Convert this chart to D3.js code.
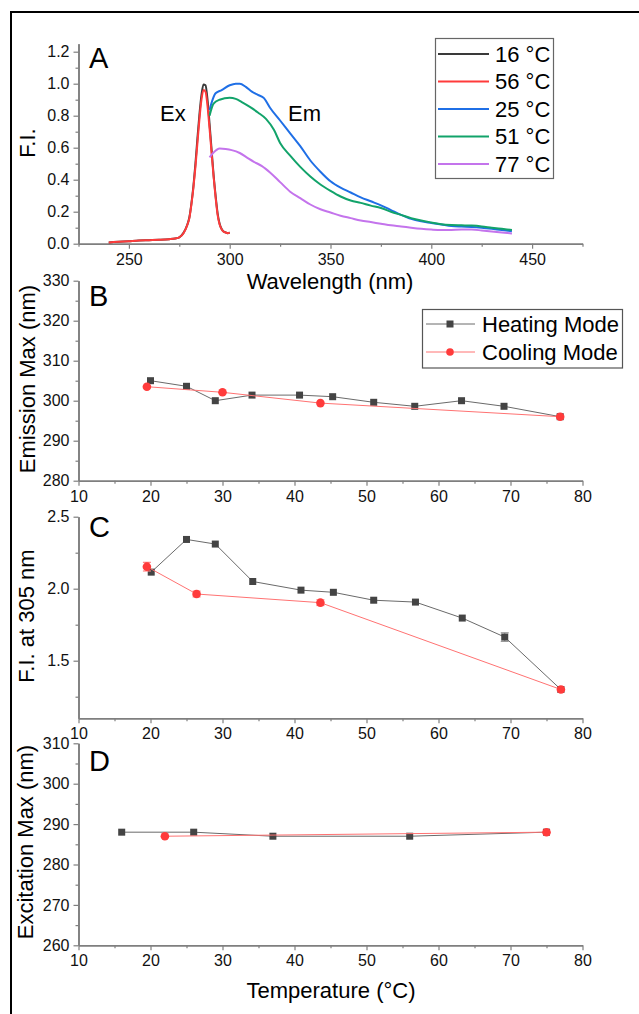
<!DOCTYPE html>
<html>
<head>
<meta charset="utf-8">
<script src="https://cdn.jsdelivr.net/npm/d3@7"></script>
<style>
  html, body { margin: 0; padding: 0; background: #fff; }
  svg { display: block; font-family: "Liberation Sans", Arial, sans-serif; }
</style>
</head>
<body>
<svg id="chart" width="639" height="1014"></svg>
<script>
// === Datos: panel A (espectros) ===
const specLabels = ["16 °C", "56 °C", "25 °C", "51 °C", "77 °C"];
const specColors = ["#3a3a3a", "#ff3b3b", "#1f6fe6", "#12a36a", "#c474ec"];

const ex16 = [[240,0.008],[245,0.012],[250,0.016],[255,0.02],[260,0.022],[265,0.024],[270,0.028],[273,0.033],[275,0.04],[277,0.066],[279,0.12],[280,0.165],[281,0.25],[282,0.36],[283,0.5],[284,0.66],[285,0.81],[286,0.93],[287,0.995],[288,0.99],[289,0.9],[290,0.75],[291,0.59],[292,0.43],[293,0.3],[294,0.19],[295,0.125],[296,0.092],[297,0.076],[298,0.07],[299,0.066],[300,0.068]];
const ex56 = [[240,0.008],[245,0.012],[250,0.016],[255,0.02],[260,0.022],[265,0.024],[270,0.028],[273,0.033],[275,0.04],[277,0.064],[279,0.118],[280,0.16],[281,0.245],[282,0.35],[283,0.48],[284,0.63],[285,0.78],[286,0.9],[287,0.96],[288,0.95],[289,0.86],[290,0.72],[291,0.57],[292,0.42],[293,0.29],[294,0.18],[295,0.12],[296,0.09],[297,0.075],[298,0.07],[299,0.066],[300,0.068]];
const em25 = [[290,0.835],[291,0.88],[293,0.94],[296,0.96],[300,0.99],[303,1.0],[305,1.0],[308,0.98],[311,0.95],[314,0.93],[317,0.91],[320,0.85],[325,0.77],[330,0.69],[335,0.61],[340,0.52],[345,0.45],[350,0.39],[355,0.35],[360,0.32],[365,0.29],[370,0.265],[375,0.24],[380,0.21],[385,0.18],[390,0.155],[395,0.14],[400,0.13],[405,0.12],[410,0.11],[415,0.107],[420,0.105],[425,0.1],[430,0.093],[435,0.085],[440,0.078]];
const em51 = [[290,0.8],[292,0.875],[295,0.9],[300,0.912],[303,0.905],[306,0.885],[310,0.855],[314,0.82],[318,0.78],[322,0.71],[325,0.63],[330,0.55],[335,0.48],[340,0.42],[345,0.37],[350,0.33],[355,0.295],[360,0.27],[365,0.255],[370,0.238],[375,0.223],[380,0.2],[385,0.18],[390,0.16],[395,0.145],[400,0.133],[405,0.122],[410,0.117],[415,0.115],[420,0.113],[425,0.108],[430,0.1],[435,0.093],[440,0.086]];
const em77 = [[290,0.54],[292,0.57],[295,0.595],[298,0.592],[301,0.585],[305,0.567],[309,0.535],[312,0.512],[316,0.485],[320,0.445],[325,0.385],[330,0.325],[335,0.285],[340,0.245],[345,0.215],[350,0.195],[355,0.175],[360,0.16],[365,0.145],[370,0.135],[375,0.125],[380,0.115],[385,0.108],[390,0.1],[395,0.093],[400,0.088],[405,0.085],[410,0.086],[415,0.088],[420,0.088],[425,0.083],[430,0.077],[435,0.07],[440,0.064]];
const spectra = [ex16, ex56, em25, em51, em77];

// === Datos: paneles B, C, D (calentamiento / enfriamiento) ===
const modeLabels = ["Heating Mode", "Cooling Mode"];
const heatB = [[20,305],[25,303.6],[29,300],[34.1,301.4],[40.7,301.4],[45.3,301],[51,299.6],[56.7,298.6],[63.2,300],[69.1,298.6],[76.9,296]];
const coolB = [[76.9,296],[43.6,299.4],[30,302.1],[19.5,303.5]];
const heatC = [[20.1,2.115,0],[25,2.342,0],[29,2.31,0],[34.2,2.05,0],[40.9,1.99,0],[45.4,1.975,0],[51,1.92,0],[56.8,1.907,0],[63.3,1.796,0],[69.2,1.664,0.03],[77,1.3,0]];
const coolC = [[77,1.3,0],[43.6,1.903,0.02],[26.4,1.963,0.02],[19.5,2.153,0.03]];
const heatD = [[16,288],[26,288],[37,287],[56,287],[75,288]];
const coolD = [[75,288],[22,287]];

// === Ticks ===
const ticksA = { x: [250, 300, 350, 400, 450], xm: [225, 275, 325, 375, 425, 475],
                 y: [0, 0.2, 0.4, 0.6, 0.8, 1.0, 1.2], ym: [0.1, 0.3, 0.5, 0.7, 0.9, 1.1] };
const tempTicks = [10, 20, 30, 40, 50, 60, 70, 80];
const tempMinor = [15, 25, 35, 45, 55, 65, 75];
const ticksB = { y: [280, 290, 300, 310, 320, 330], ym: [285, 295, 305, 315, 325] };
const ticksC = { y: [1.5, 2.0, 2.5], ym: [1.25, 1.75, 2.25] };
const ticksD = { y: [260, 270, 280, 290, 300, 310], ym: [265, 275, 285, 295, 305] };

// === Lienzo ===
const svg = d3.select('#chart');
const AXIS = '#7f7f7f';
const X0 = 78.5, X1 = 582.5;

// marco exterior
svg.append('path').attr('d', 'M11,1014 V12 H639').attr('fill', 'none').attr('stroke', '#000').attr('stroke-width', 2);

function drawAxes(x, y, xt, xm, yt, ym, fx, fy) {
  const yb = y.range()[0];
  const gx = svg.append('g').attr('transform', `translate(0,${yb})`);
  gx.call(d3.axisBottom(x).tickValues(xm).tickSize(3).tickSizeOuter(0).tickFormat(''));
  gx.append('g').call(d3.axisBottom(x).tickValues(xt).tickSize(5).tickSizeOuter(0).tickFormat(fx));
  const gy = svg.append('g').attr('transform', `translate(${X0},0)`);
  gy.call(d3.axisLeft(y).tickValues(ym).tickSize(3).tickSizeOuter(0).tickFormat(''));
  gy.append('g').call(d3.axisLeft(y).tickValues(yt).tickSize(5).tickSizeOuter(0).tickFormat(fy));
  [gx, gy].forEach(g => {
    g.selectAll('.domain').attr('stroke', AXIS).attr('stroke-width', 1.6);
    g.selectAll('.tick line').attr('stroke', AXIS).attr('stroke-width', 1.2);
    g.selectAll('text').attr('fill', '#111').attr('font-size', 16).attr('font-family', null);
  });
  gx.selectAll('text').attr('y', 21).attr('dy', 0);
  gy.selectAll('text').attr('x', -9);
}

function yTitle(txt, cx, cy) {
  svg.append('text').attr('transform', `translate(${cx},${cy}) rotate(-90)`)
    .attr('text-anchor', 'middle').attr('font-size', 22).attr('fill', '#000').text(txt);
}
function letter(txt, x, y) {
  svg.append('text').attr('x', x).attr('y', y).attr('font-size', 29).attr('fill', '#000').text(txt);
}

// === Panel A ===
const xA = d3.scaleLinear().domain([225, 475]).range([X0, X1]);
const yA = d3.scaleLinear().domain([0, 1.25]).range([243.7, 43.7]);
drawAxes(xA, yA, ticksA.x, ticksA.xm, ticksA.y, ticksA.ym, d3.format('d'), d3.format('.1f'));

const lineA = d3.line().x(d => xA(d[0])).y(d => yA(d[1])).curve(d3.curveMonotoneX);
spectra.forEach((s, i) => {
  svg.append('path').attr('d', lineA(s)).attr('fill', 'none')
    .attr('stroke', specColors[i]).attr('stroke-width', 2).attr('stroke-linejoin', 'round');
});
svg.append('text').attr('x', 160).attr('y', 121).attr('font-size', 22).text('Ex');
svg.append('text').attr('x', 288).attr('y', 120.5).attr('font-size', 22).text('Em');
letter('A', 89, 68);
yTitle('F.I.', 35, 143);
svg.append('text').attr('x', 330).attr('y', 288.5).attr('text-anchor', 'middle').attr('font-size', 22).text('Wavelength (nm)');

// leyenda A
const legA = svg.append('g');
legA.append('rect').attr('x', 435.5).attr('y', 38.5).attr('width', 118).attr('height', 140)
  .attr('fill', '#fff').attr('stroke', '#666').attr('stroke-width', 1.2);
specLabels.forEach((lab, i) => {
  const ly = 54 + i * 27.5;
  legA.append('line').attr('x1', 438).attr('x2', 489).attr('y1', ly).attr('y2', ly)
    .attr('stroke', specColors[i]).attr('stroke-width', 2);
  legA.append('text').attr('x', 495).attr('y', ly).attr('dy', '0.36em').attr('font-size', 22).text(lab);
});

// === Paneles B, C, D ===
const xT = d3.scaleLinear().domain([10, 80]).range([X0, X1]);
const HEAT = '#444', HEAT_LINE = '#6a6a6a', COOL = '#ff3b3b', COOL_LINE = '#ff7272';

function drawSeries(y, heat, cool) {
  const ln = d3.line().x(d => xT(d[0])).y(d => y(d[1]));
  [[heat, HEAT, HEAT_LINE, 'sq'], [cool, COOL, COOL_LINE, 'ci']].forEach(([data, col, lcol, shape]) => {
    svg.append('path').attr('d', ln(data)).attr('fill', 'none').attr('stroke', lcol).attr('stroke-width', 1);
    data.filter(d => d[2]).forEach(d => {
      const g = svg.append('g').attr('stroke', shape === 'sq' ? '#999' : '#ff8080').attr('stroke-width', 1.2);
      const cx = xT(d[0]);
      g.append('line').attr('x1', cx).attr('x2', cx).attr('y1', y(d[1] - d[2])).attr('y2', y(d[1] + d[2]));
      [d[1] - d[2], d[1] + d[2]].forEach(v =>
        g.append('line').attr('x1', cx - 4).attr('x2', cx + 4).attr('y1', y(v)).attr('y2', y(v)));
    });
    data.forEach(d => {
      if (shape === 'sq') {
        svg.append('rect').attr('x', xT(d[0]) - 3.5).attr('y', y(d[1]) - 3.5)
          .attr('width', 7).attr('height', 7).attr('fill', col);
      } else {
        svg.append('circle').attr('cx', xT(d[0])).attr('cy', y(d[1])).attr('r', 4.3).attr('fill', col);
      }
    });
  });
}

// B
const yB = d3.scaleLinear().domain([280, 330]).range([480.7, 280.7]);
drawAxes(xT, yB, tempTicks, tempMinor, ticksB.y, ticksB.ym, d3.format('d'), d3.format('d'));
drawSeries(yB, heatB, coolB);
letter('B', 89, 306);
yTitle('Emission Max (nm)', 35, 379);

const legB = svg.append('g');
legB.append('rect').attr('x', 422.5).attr('y', 309.5).attr('width', 200).attr('height', 58.5)
  .attr('fill', '#fff').attr('stroke', '#555').attr('stroke-width', 1.2);
modeLabels.forEach((lab, i) => {
  const ly = 324 + i * 28;
  legB.append('line').attr('x1', 426).attr('x2', 475).attr('y1', ly).attr('y2', ly)
    .attr('stroke', i ? COOL_LINE : HEAT_LINE).attr('stroke-width', 1);
  if (i) legB.append('circle').attr('cx', 450).attr('cy', ly).attr('r', 3.8).attr('fill', COOL);
  else legB.append('rect').attr('x', 446.5).attr('y', ly - 3.5).attr('width', 7).attr('height', 7).attr('fill', HEAT);
  legB.append('text').attr('x', 482).attr('y', ly).attr('dy', '0.36em').attr('font-size', 22).text(lab);
});

// C
const yC = d3.scaleLinear().domain([1.1, 2.5]).range([718.3, 516.7]);
drawAxes(xT, yC, tempTicks, tempMinor, ticksC.y, ticksC.ym, d3.format('d'), d3.format('.1f'));
drawSeries(yC, heatC, coolC);
letter('C', 89, 537);
yTitle('F.I. at 305 nm', 34, 616);

// D
const yD = d3.scaleLinear().domain([260, 310]).range([945.3, 743.3]);
drawAxes(xT, yD, tempTicks, tempMinor, ticksD.y, ticksD.ym, d3.format('d'), d3.format('d'));
drawSeries(yD, heatD, coolD);
letter('D', 89, 771);
yTitle('Excitation Max (nm)', 33, 842);
svg.append('text').attr('x', 331).attr('y', 998).attr('text-anchor', 'middle').attr('font-size', 22).text('Temperature (°C)');
</script>
</body>
</html>
